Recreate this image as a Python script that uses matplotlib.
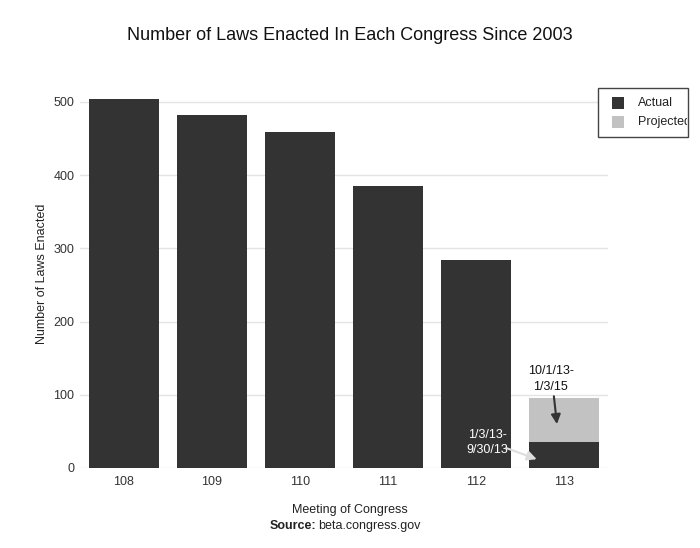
import matplotlib
matplotlib.use("Agg")
import matplotlib.pyplot as plt
from matplotlib.patches import Rectangle
from matplotlib.transforms import Bbox, TransformedBbox

plt.rcParams["font.family"] = ["Liberation Sans", "DejaVu Sans"]

congresses = ["108", "109", "110", "111", "112", "113"]
actual = [504, 482, 459, 385, 284, 36]
projected = [0, 0, 0, 0, 0, 60]
legend_labels = ["Actual", "Projected"]

dark = "#333333"
light = "#c2c2c2"
W, H = 700, 548

fig = plt.figure(figsize=(7, 5.48), dpi=100)
ax = fig.add_axes([80 / W, 80 / H, 528 / W, 388 / H])

x = list(range(len(congresses)))
ax.bar(x, actual, width=0.8, color=dark, zorder=2)
ax.bar(x, projected, width=0.8, bottom=actual, color=light, zorder=2)

ax.set_xlim(-0.5, len(congresses) - 0.5)
ax.set_ylim(0, 530)
ax.set_yticks([0, 100, 200, 300, 400, 500])
ax.set_xticks(x)
ax.set_xticklabels(congresses)
ax.yaxis.grid(True, color="#e4e4e4", linewidth=1, zorder=0)
ax.tick_params(axis="y", length=0, labelsize=9, colors="#333333", pad=4)
ax.tick_params(axis="x", length=0, labelsize=9, colors="#333333", pad=6)
for s in ax.spines.values():
    s.set_visible(False)

fig.text(42 / W, 1 - 274 / H, "Number of Laws Enacted", rotation=90,
         ha="center", va="center", fontsize=9, color="#222222")

fig.text(0.5, 1 - 35 / H, "Number of Laws Enacted In Each Congress Since 2003",
         ha="center", va="center", fontsize=13, color="#111111")
fig.text(0.5, 1 - 510 / H, "Meeting of Congress", ha="center", va="center",
         fontsize=9, color="#222222")
fig.text(316 / W, 1 - 526 / H, "Source:", ha="right", va="center",
         fontsize=9, fontweight="bold", color="#222222")
fig.text(318 / W, 1 - 526 / H, "beta.congress.gov", ha="left", va="center",
         fontsize=9, color="#222222")

# annotations on the 113th bar
i = len(congresses) - 1
ax.text(i - 0.15, 121.5, "10/1/13-\n1/3/15", ha="center", va="center",
        fontsize=9, color="#111111", linespacing=1.35)
ax.annotate("", xy=(i - 0.08, actual[i] + 24), xytext=(i - 0.115, 98),
            arrowprops=dict(arrowstyle="-|>", color=dark, lw=1.5,
                            mutation_scale=14, shrinkA=0, shrinkB=0))
ax.text(i - 0.875, 35, "1/3/13-\n9/30/13", ha="center", va="center",
        fontsize=9, color="white", linespacing=1.35, zorder=4)
ax.annotate("", xy=(i - 0.31, 12), xytext=(i - 0.65, 27),
            arrowprops=dict(arrowstyle="-|>", color="#dddddd", lw=1.5,
                            mutation_scale=14, shrinkA=0, shrinkB=0))

# legend box, cut off at the right edge like the reference
fig.patches.append(Rectangle((598 / W, 1 - 137 / H), 90 / W, 49 / H,
                             transform=fig.transFigure, facecolor="white",
                             edgecolor="#444444", linewidth=1))
clip = TransformedBbox(Bbox([[0, 0], [687 / W, 1]]), fig.transFigure)
for k, (lab, col) in enumerate(zip(legend_labels, [dark, light])):
    yc = 103 + 19 * k
    fig.patches.append(Rectangle((612 / W, 1 - (yc + 6) / H), 12 / W, 12 / H,
                                 transform=fig.transFigure, facecolor=col,
                                 edgecolor="none"))
    t = fig.text(638 / W, 1 - yc / H, lab, ha="left", va="center",
                 fontsize=9, color="#222222")
    t.set_clip_box(clip)
    t.set_clip_on(True)

fig.savefig("out.png", dpi=100)
